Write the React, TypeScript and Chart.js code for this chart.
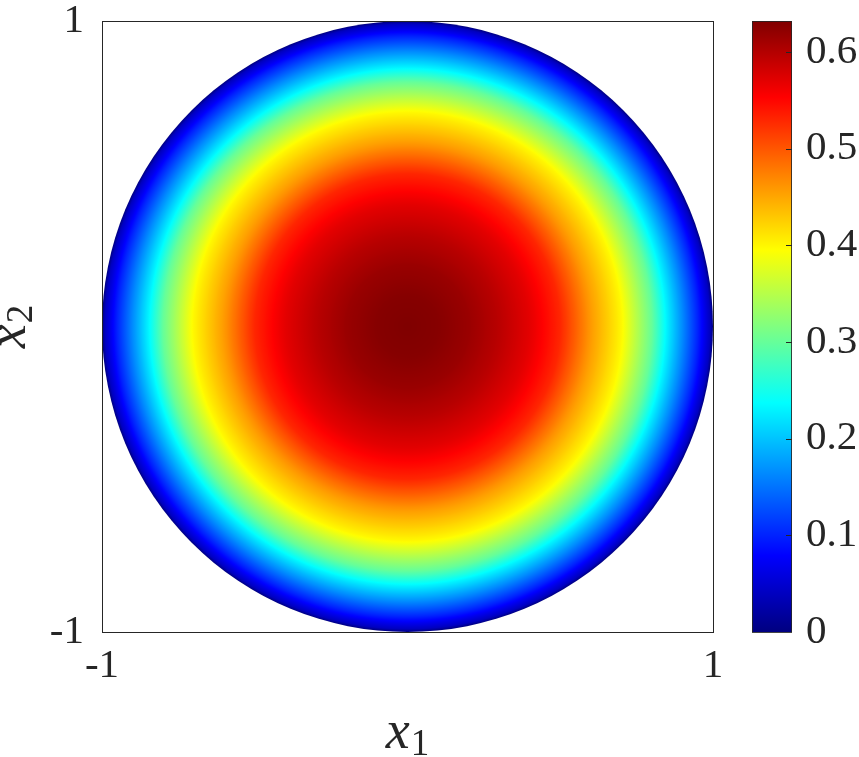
import React, { useEffect, useRef } from "react";
import { Chart, registerables } from "chart.js";

Chart.register(...registerables);

// ---- data ----
const xTickValues = [-1, 1];
const xTickLabels = ["-1", "1"];
const yTickValues = [-1, 1];
const yTickLabels = ["-1", "1"];
// radial profile of the field u(r), r = sqrt(x1^2 + x2^2)
const profileRadii = [0, 0.1, 0.2, 0.3, 0.4, 0.5, 0.6, 0.7, 0.8, 0.85, 0.9, 0.95, 0.99, 1.0];
const profileValues = [0.632, 0.628, 0.616, 0.596, 0.57, 0.53, 0.458, 0.4, 0.3, 0.228, 0.165, 0.1, 0.04, 0];
const colorbarTickValues = [0, 0.1, 0.2, 0.3, 0.4, 0.5, 0.6];
const colorMin = 0;
const colorMax = 0.632;

const TEXT = "#262626";
const FONT = "'Liberation Serif', 'Times New Roman', serif";

function clamp01(v: number) {
  return Math.max(0, Math.min(1, v));
}
function jet(t: number) {
  const r = clamp01(1.5 - Math.abs(4 * t - 3));
  const g = clamp01(1.5 - Math.abs(4 * t - 2));
  const b = clamp01(1.5 - Math.abs(4 * t - 1));
  return `rgb(${Math.round(r * 255)},${Math.round(g * 255)},${Math.round(b * 255)})`;
}
function profileAt(r: number) {
  for (let i = 1; i < profileRadii.length; i++) {
    if (r <= profileRadii[i]) {
      const r0 = profileRadii[i - 1];
      const r1 = profileRadii[i];
      const f = (r - r0) / (r1 - r0);
      return profileValues[i - 1] + f * (profileValues[i] - profileValues[i - 1]);
    }
  }
  return profileValues[profileValues.length - 1];
}

const zeroPad = (s: any) => {
  s.paddingTop = 0;
  s.paddingBottom = 0;
  s.paddingLeft = 0;
  s.paddingRight = 0;
};

const diskPlugin = {
  id: "disk",
  beforeDatasetsDraw(chart: any) {
    const { ctx, scales } = chart;
    const cx = scales.x.getPixelForValue(0);
    const cy = scales.y.getPixelForValue(0);
    const rx = scales.x.getPixelForValue(1) - cx;
    const ry = cy - scales.y.getPixelForValue(1);
    ctx.save();
    ctx.translate(cx, cy);
    ctx.scale(1, ry / rx);
    const grad = ctx.createRadialGradient(0, 0, 0, 0, 0, rx);
    const N = 300;
    for (let i = 0; i <= N; i++) {
      const r = i / N;
      const v = profileAt(r);
      grad.addColorStop(r, jet((v - colorMin) / (colorMax - colorMin)));
    }
    ctx.fillStyle = grad;
    ctx.beginPath();
    ctx.arc(0, 0, rx, 0, Math.PI * 2);
    ctx.fill();
    ctx.restore();
  },
  afterDraw(chart: any) {
    const { ctx, chartArea } = chart;
    const { left, top, right, bottom } = chartArea;
    ctx.save();
    ctx.strokeStyle = TEXT;
    ctx.lineWidth = 1;
    ctx.strokeRect(Math.round(left) + 0.5, Math.round(top) + 0.5, Math.round(right - left), Math.round(bottom - top));

    // axis titles x_1 and x_2
    const mainFont = `italic 54px ${FONT}`;
    const subFont = `37px ${FONT}`;
    ctx.fillStyle = TEXT;
    ctx.textBaseline = "alphabetic";
    ctx.textAlign = "left";
    // x1
    ctx.font = mainFont;
    const wx = ctx.measureText("x").width;
    ctx.font = subFont;
    const w1 = ctx.measureText("1").width;
    const total = wx + 1 + w1;
    const cxm = (left + right) / 2;
    const baseX = bottom + 116;
    ctx.font = mainFont;
    ctx.fillText("x", cxm - total / 2, baseX);
    ctx.font = subFont;
    ctx.fillText("1", cxm - total / 2 + wx + 1, baseX + 7);
    // x2 (rotated)
    const cym = (top + bottom) / 2;
    ctx.translate(25, cym);
    ctx.rotate(-Math.PI / 2);
    ctx.font = subFont;
    const w2 = ctx.measureText("2").width;
    const total2 = wx + 1 + w2;
    ctx.font = mainFont;
    ctx.fillText("x", -total2 / 2, 0);
    ctx.font = subFont;
    ctx.fillText("2", -total2 / 2 + wx + 1, 7);
    ctx.restore();
  },
};

const colorbarPlugin = {
  id: "cbticks",
  afterDraw(chart: any) {
    const { ctx, chartArea, scales } = chart;
    const { left, top, right, bottom } = chartArea;
    ctx.save();
    ctx.strokeStyle = TEXT;
    ctx.lineWidth = 1;
    for (const t of scales.y.ticks) {
      const y = Math.round(scales.y.getPixelForValue(t.value)) + 0.5;
      if (y <= top + 1 || y >= bottom - 1) continue;
      ctx.beginPath();
      ctx.moveTo(right - 6, y);
      ctx.lineTo(right, y);
      ctx.stroke();
    }
    ctx.strokeStyle = "rgba(38,38,38,0.85)";
    ctx.strokeRect(Math.round(left) + 0.5, Math.round(top) + 0.5, Math.round(right - left) - 1, Math.round(bottom - top));
    ctx.restore();
  },
};

export default function App() {
  const mainRef = useRef<HTMLCanvasElement>(null);
  const cbRef = useRef<HTMLCanvasElement>(null);

  useEffect(() => {
    const tickFont = { family: FONT, size: 41, lineHeight: 1 };
    const main = new Chart(mainRef.current as HTMLCanvasElement, {
      type: "scatter",
      data: { datasets: [] },
      options: {
        animation: false,
        responsive: false,
        events: [],
        layout: { padding: { top: 21, right: 27, left: 0, bottom: 0 } },
        plugins: { legend: { display: false }, tooltip: { enabled: false } },
        scales: {
          x: {
            type: "linear",
            min: -1,
            max: 1,
            afterFit: (s: any) => {
              s.height = 125;
              zeroPad(s);
            },
            afterBuildTicks: (s: any) => {
              s.ticks = xTickValues.map((v) => ({ value: v }));
            },
            grid: { display: false, drawTicks: false },
            border: { display: false },
            ticks: {
              color: TEXT,
              font: tickFont,
              padding: 14,
              maxRotation: 0,
              callback: (v: any) => xTickLabels[xTickValues.indexOf(Number(v))] ?? "",
            },
          },
          y: {
            type: "linear",
            min: -1,
            max: 1,
            afterFit: (s: any) => {
              s.width = 102;
              zeroPad(s);
            },
            afterBuildTicks: (s: any) => {
              s.ticks = yTickValues.map((v) => ({ value: v }));
            },
            grid: { display: false, drawTicks: false },
            border: { display: false },
            ticks: {
              color: TEXT,
              font: tickFont,
              padding: 18,
              callback: (v: any) => yTickLabels[yTickValues.indexOf(Number(v))] ?? "",
            },
          },
        },
      },
      plugins: [diskPlugin],
    } as any);

    const cb = new Chart(cbRef.current as HTMLCanvasElement, {
      type: "bar",
      data: {
        labels: [""],
        datasets: [
          {
            data: [[colorMin, colorMax]],
            barPercentage: 1,
            categoryPercentage: 1,
            borderWidth: 0,
            inflateAmount: 0,
            backgroundColor: (c: any) => {
              const chart = c.chart;
              const ys = chart.scales && chart.scales.y;
              if (!chart.chartArea || !ys) return jet(0.5);
              const y0 = ys.getPixelForValue(colorMin);
              const y1 = ys.getPixelForValue(colorMax);
              const g = chart.ctx.createLinearGradient(0, y0, 0, y1);
              for (let k = 0; k <= 8; k++) g.addColorStop(k / 8, jet(k / 8));
              return g;
            },
          },
        ],
      },
      options: {
        animation: false,
        responsive: false,
        events: [],
        layout: { padding: { top: 21, right: 0, left: 12, bottom: 125 } },
        plugins: { legend: { display: false }, tooltip: { enabled: false } },
        scales: {
          x: { display: false },
          y: {
            type: "linear",
            position: "right",
            min: colorMin,
            max: colorMax,
            afterFit: (s: any) => {
              s.width = 67;
              zeroPad(s);
            },
            afterBuildTicks: (s: any) => {
              s.ticks = colorbarTickValues.map((v) => ({ value: v }));
            },
            grid: { display: false, drawTicks: false },
            border: { display: false },
            ticks: {
              color: TEXT,
              font: tickFont,
              padding: 14,
              callback: (v: any) => String(Math.round(Number(v) * 10) / 10),
            },
          },
        },
      },
      plugins: [colorbarPlugin],
    } as any);

    return () => {
      main.destroy();
      cb.destroy();
    };
  }, []);

  return (
    <div style={{ position: "absolute", left: 0, top: 0, width: 859, height: 757, background: "#fff" }}>
      <canvas ref={mainRef} width={740} height={757} style={{ position: "absolute", left: 0, top: 0, display: "block" }} />
      <canvas ref={cbRef} width={119} height={757} style={{ position: "absolute", left: 740, top: 0, display: "block" }} />
    </div>
  );
}
